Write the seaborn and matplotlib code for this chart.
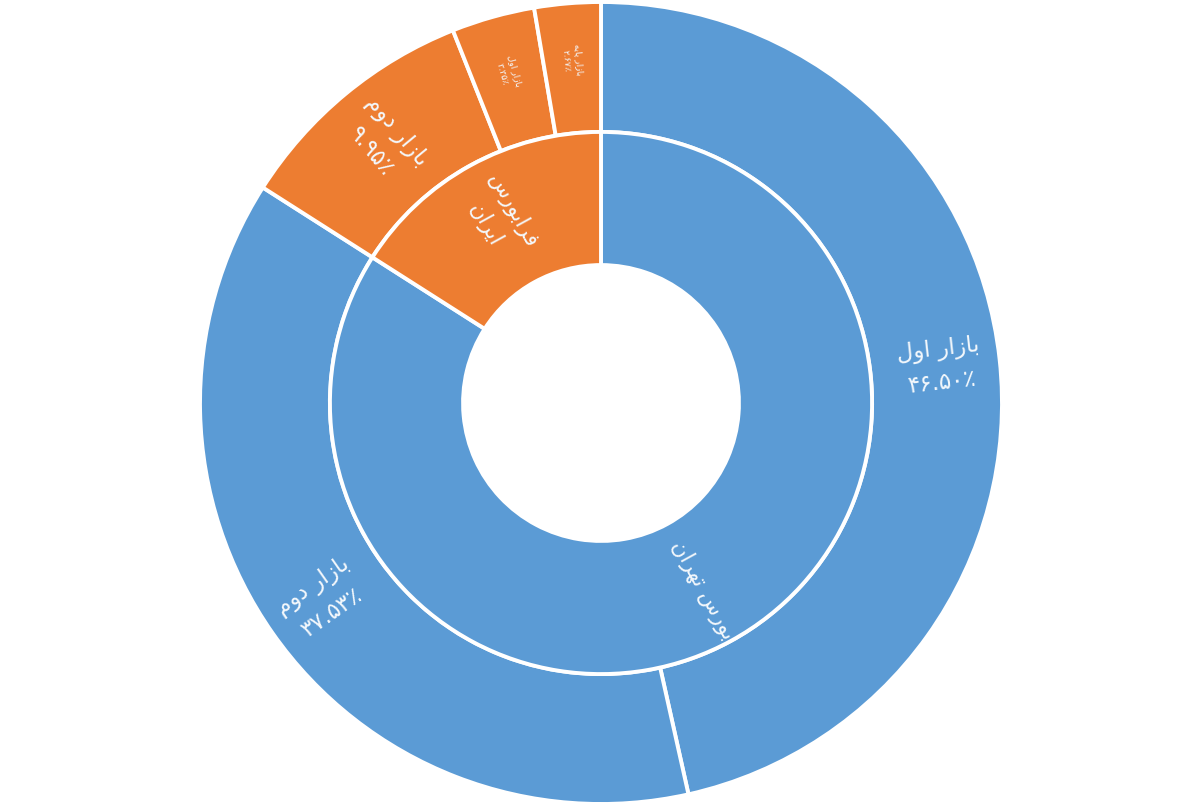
import numpy as np
import pandas as pd
import matplotlib
matplotlib.use("Agg")
import matplotlib.pyplot as plt
import seaborn as sns

# داده ها
bazar_bayrooni = ['بورس تهران', 'فرابورس ایران']
bazar_nam = ['بازار اول', 'بازار دوم', 'بازار دوم', 'بازار اول', 'بازار پایه']
bazar_gorooh = ['بورس تهران', 'بورس تهران', 'فرابورس ایران', 'فرابورس ایران', 'فرابورس ایران']
bazar_darsad = [46.50, 37.53, 9.95, 3.35, 2.67]
rang_gorooh = ['#5B9BD5', '#ED7D31']

df = pd.DataFrame({'nam': bazar_nam, 'gorooh': bazar_gorooh, 'darsad': bazar_darsad})
jam = df.groupby('gorooh', sort=False)['darsad'].sum().reindex(bazar_bayrooni)

# شکل دادن حروف فارسی (matplotlib خودش این کار را نمی کند)
FORMS = {
    'ا': ('\uFE8D', '\uFE8E', None, None),
    'ب': ('\uFE8F', '\uFE90', '\uFE91', '\uFE92'),
    'پ': ('\uFB56', '\uFB57', '\uFB58', '\uFB59'),
    'ت': ('\uFE95', '\uFE96', '\uFE97', '\uFE98'),
    'د': ('\uFEA9', '\uFEAA', None, None),
    'ر': ('\uFEAD', '\uFEAE', None, None),
    'ز': ('\uFEAF', '\uFEB0', None, None),
    'س': ('\uFEB1', '\uFEB2', '\uFEB3', '\uFEB4'),
    'ف': ('\uFED1', '\uFED2', '\uFED3', '\uFED4'),
    'ل': ('\uFEDD', '\uFEDE', '\uFEDF', '\uFEE0'),
    'م': ('\uFEE1', '\uFEE2', '\uFEE3', '\uFEE4'),
    'ن': ('\uFEE5', '\uFEE6', '\uFEE7', '\uFEE8'),
    'ه': ('\uFEE9', '\uFEEA', '\uFEEB', '\uFEEC'),
    'و': ('\uFEED', '\uFEEE', None, None),
    'ی': ('\uFBFC', '\uFBFD', '\uFBFE', '\uFBFF'),
}


def shekl(matn):
    out = []
    for i, c in enumerate(matn):
        if c not in FORMS:
            out.append(c)
            continue
        prev = matn[i - 1] if i > 0 else ''
        nxt = matn[i + 1] if i < len(matn) - 1 else ''
        az_ghabl = prev in FORMS and FORMS[prev][2] is not None
        be_baad = FORMS[c][2] is not None and nxt in FORMS
        f = FORMS[c]
        if az_ghabl and be_baad:
            out.append(f[3])
        elif az_ghabl:
            out.append(f[1])
        elif be_baad:
            out.append(f[2])
        else:
            out.append(f[0])
    return ''.join(out)[::-1]


def adad_farsi(v):
    s = f"{v:.2f}"
    return s.translate(str.maketrans('0123456789', '۰۱۲۳۴۵۶۷۸۹')) + '٪'


sns.set_theme(style='white')
plt.rcParams['font.family'] = ['DejaVu Sans']

fig = plt.figure(figsize=(12, 8.04), dpi=100)
ax = fig.add_axes([0, 0, 1, 1])

rang_birooni = [rang_gorooh[bazar_bayrooni.index(g)] for g in df['gorooh']]

w_out, _ = ax.pie(df['darsad'], radius=1.0, colors=rang_birooni, startangle=90,
                  counterclock=False,
                  wedgeprops=dict(width=0.324, edgecolor='white', linewidth=2.8))
w_in, _ = ax.pie(jam.values, radius=0.676, colors=rang_gorooh, startangle=90,
                 counterclock=False,
                 wedgeprops=dict(width=0.332, edgecolor='white', linewidth=2.8))


def bezan(wedge, matn, r, size):
    ang = (wedge.theta1 + wedge.theta2) / 2
    x = r * np.cos(np.radians(ang))
    y = r * np.sin(np.radians(ang))
    a = (ang + 180) % 360 - 180
    rot = a if -90 <= a <= 90 else a - 180
    ax.text(x, y, matn, ha='center', va='center', rotation=rot,
            rotation_mode='anchor', color='#F4F8FC', fontsize=size,
            multialignment='center', linespacing=1.55)


for i, w in enumerate(w_out):
    matn = shekl(df['nam'][i]) + '\n' + adad_farsi(df['darsad'][i])
    if df['darsad'][i] < 5:
        bezan(w, matn, 0.86, 6.5)
    else:
        bezan(w, matn, 0.85, 16.5)

bezan(w_in[0], shekl('بورس تهران'), 0.53, 15.5)
bezan(w_in[1], shekl('فرابورس') + '\n' + shekl('ایران'), 0.53, 15.5)

ax.set_xlim(-601 / 401, 599 / 401)
ax.set_ylim(-400 / 401, 404 / 401)
ax.set_aspect('equal')
ax.axis('off')

fig.savefig('out.png', dpi=100)
